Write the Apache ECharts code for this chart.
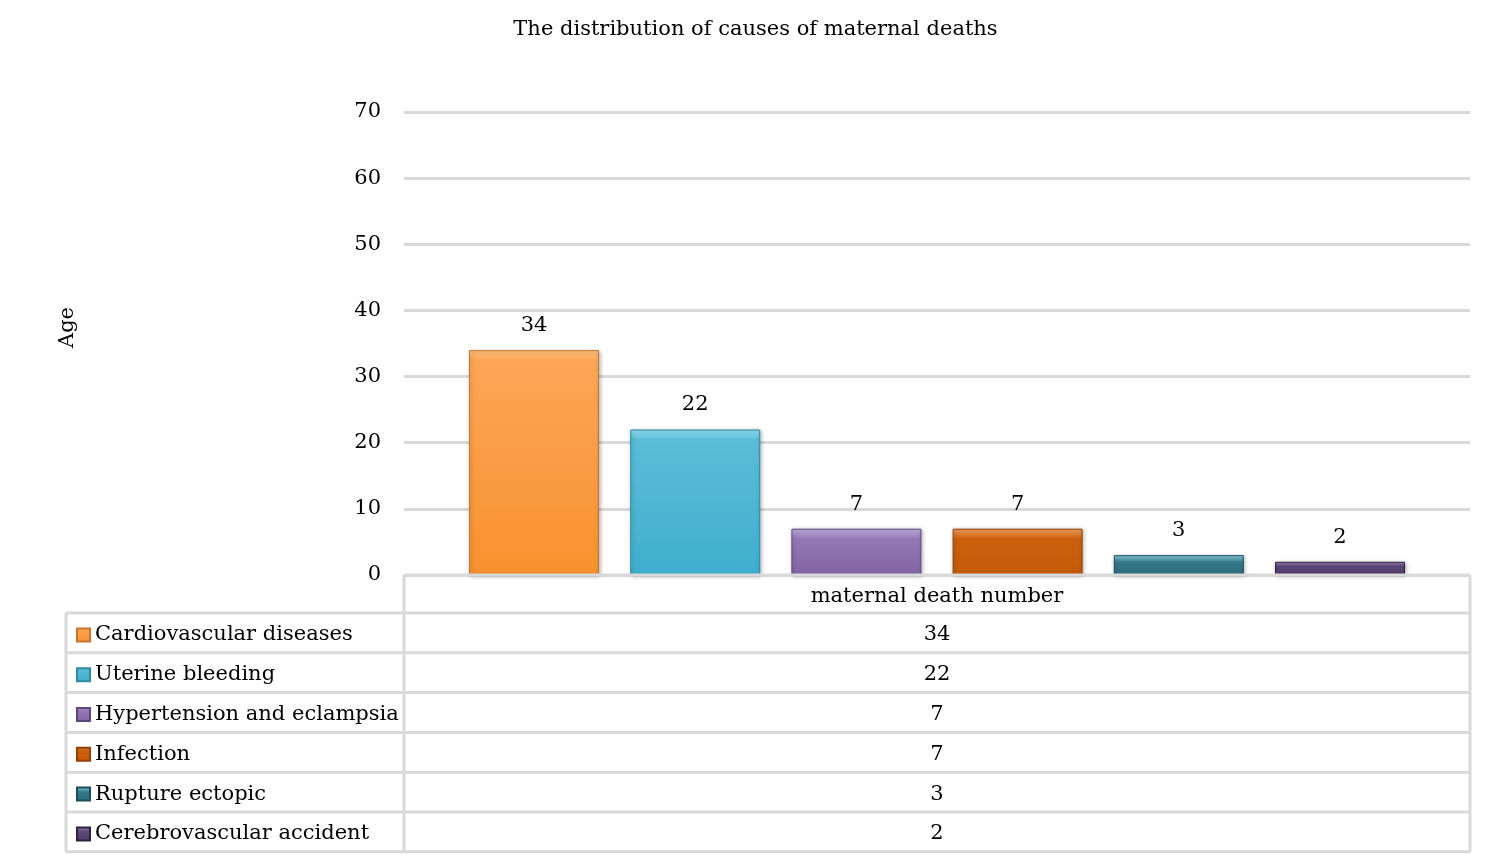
<!DOCTYPE html>
<html>
<head>
<meta charset="utf-8">
<script src="https://cdn.jsdelivr.net/npm/echarts@6/dist/echarts.min.js"></script>
<style>
  html, body { margin: 0; padding: 0; background: #fff; }
  #main { width: 1511px; height: 866px; }
</style>
</head>
<body>
<div id="main"></div>
<script type="text/javascript">
    // 数据
    var causes = ['Cardiovascular diseases', 'Uterine bleeding', 'Hypertension and eclampsia',
                  'Infection', 'Rupture ectopic', 'Cerebrovascular accident'];
    var deaths = [34, 22, 7, 7, 3, 2];
    var category = ['maternal death number'];
    var yTicks = [0, 10, 20, 30, 40, 50, 60, 70];

    // 每个柱子的颜色: [顶部亮色, 主色, 底部色, 边框]
    var palette = [
        ['#ffc07e', '#fca657', '#f8922f', '#c8742c'],
        ['#8fe0f2', '#5bbdd7', '#40aecf', '#2f8aa4'],
        ['#c3aee0', '#9478b6', '#8264a4', '#5e4780'],
        ['#f0a060', '#cc600c', '#c55a0a', '#8f3f05'],
        ['#8fd2e2', '#34798b', '#2d6d7e', '#1d4c59'],
        ['#9c88b8', '#5c4779', '#4e3b6a', '#2e2140']
    ];

    var FONT = 'DejaVu Serif';
    var fs = 21;
    var plotL = 404, plotR = 1470, axisY = 575;
    var tableL = 66, headerB = 613, rowH = 39.8;

    var myChart = echarts.init(document.getElementById('main'));

    var series = causes.map(function (name, i) {
        var c = palette[i];
        return {
            name: name,
            type: 'bar',
            barWidth: 130,
            barGap: '24%',
            data: [deaths[i]],
            itemStyle: {
                color: new echarts.graphic.LinearGradient(0, 0, 0, 1, [
                    { offset: 0, color: c[0] },
                    { offset: Math.min(0.35, 10 / (deaths[i] * 6.6)), color: c[1] },
                    { offset: 1, color: c[2] }
                ]),
                borderColor: c[3],
                borderWidth: 1,
                shadowBlur: 4,
                shadowOffsetX: 1,
                shadowOffsetY: 1,
                shadowColor: 'rgba(0,0,0,0.3)'
            },
            label: {
                show: true,
                position: 'top',
                distance: 14,
                color: '#000',
                fontFamily: FONT,
                fontSize: fs
            }
        };
    });

    // 数据表 (图表下方)
    var graphics = [];
    var gray = '#d9d9d9';
    var tableB = headerB + rowH * causes.length;
    function line(x1, y1, x2, y2) {
        graphics.push({ type: 'line', shape: { x1: x1, y1: y1, x2: x2, y2: y2 },
                        style: { stroke: gray, lineWidth: 3 }, z: 10 });
    }
    line(plotL, axisY, plotR, axisY);
    line(plotL, axisY, plotL, tableB);
    line(plotR, axisY, plotR, tableB);
    line(tableL, headerB, tableL, tableB);
    for (var r = 0; r <= causes.length; r++) {
        line(tableL, headerB + r * rowH, plotR, headerB + r * rowH);
    }
    graphics.push({
        type: 'text', z: 11,
        style: { text: category[0], x: (plotL + plotR) / 2, y: (axisY + headerB) / 2 + 3,
                 align: 'center', verticalAlign: 'middle', font: fs + 'px "' + FONT + '"', fill: '#000' }
    });
    deaths.forEach(function (v, i) {
        graphics.push({
            type: 'text', z: 11,
            style: { text: String(v), x: (plotL + plotR) / 2, y: headerB + (i + 0.5) * rowH + 2,
                     align: 'center', verticalAlign: 'middle', font: fs + 'px "' + FONT + '"', fill: '#000' }
        });
    });

    var option = {
        animation: false,
        textStyle: { fontFamily: FONT },
        title: {
            text: 'The distribution of causes of maternal deaths',
            left: 'center',
            top: 14,
            textStyle: { fontFamily: FONT, fontSize: fs, fontWeight: 'normal', color: '#000' }
        },
        legend: {
            orient: 'vertical',
            left: 71,
            top: headerB - 3,
            itemGap: 0,
            itemWidth: 13,
            itemHeight: 13,
            icon: 'rect',
            data: causes,
            selectedMode: false,
            itemStyle: { shadowBlur: 0, shadowOffsetX: 0, shadowOffsetY: 0 },
            textStyle: { fontFamily: FONT, fontSize: fs, color: '#000', lineHeight: rowH, padding: [0, 0, 0, 0] }
        },
        grid: {
            left: plotL,
            right: 1511 - plotR,
            top: 112,
            bottom: 866 - axisY
        },
        xAxis: {
            type: 'category',
            data: category,
            axisLine: { show: false },
            axisTick: { show: false },
            axisLabel: { show: false }
        },
        yAxis: {
            type: 'value',
            min: yTicks[0],
            max: yTicks[yTicks.length - 1],
            interval: 10,
            name: 'Age',
            nameLocation: 'middle',
            nameGap: 326,
            nameTextStyle: { fontFamily: FONT, fontSize: fs, color: '#000', padding: [0, 0, 0, 32] },
            axisLine: { show: false },
            axisTick: { show: false },
            axisLabel: { color: '#000', fontFamily: FONT, fontSize: fs, margin: 23,
                         verticalAlign: 'middle', lineHeight: 26, padding: [6, 0, 0, 0] },
            splitLine: { lineStyle: { color: gray, width: 3 } }
        },
        graphic: graphics,
        series: series
    };
    myChart.setOption(option);
</script>
</body>
</html>
